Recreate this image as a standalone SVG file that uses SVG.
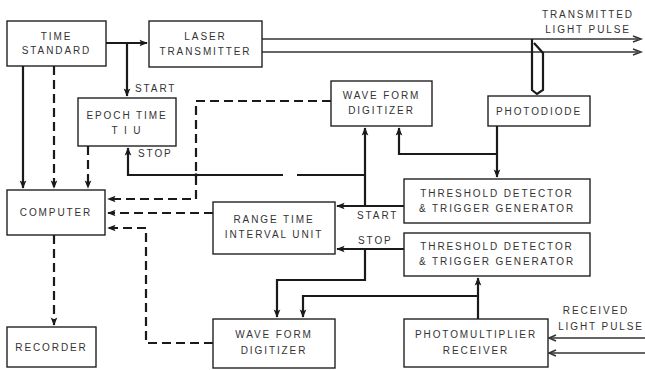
<svg xmlns="http://www.w3.org/2000/svg" width="645" height="370" viewBox="0 0 645 370">
<style>
.box{fill:#fff;stroke:#222;stroke-width:1.4}
text{font-family:"Liberation Sans",Arial,sans-serif;font-size:10px;fill:#333;letter-spacing:1.9px;text-anchor:middle}
.lbl{text-anchor:start}
.s{fill:none;stroke:#1a1a1a;stroke-width:2.2}
.d{fill:none;stroke:#1a1a1a;stroke-width:2.2;stroke-dasharray:9 5}
.b{fill:none;stroke:#333;stroke-width:1.5}
</style>
<defs>
<marker id="a" viewBox="0 0 10 10" refX="9" refY="5" markerWidth="3.8" markerHeight="3.8" orient="auto" markerUnits="strokeWidth">
<path d="M0,1 L10,5 L0,9 L2,5 z" fill="#1a1a1a"/>
</marker>
</defs>
<rect width="645" height="370" fill="#fff"/>
<g id="connectors">
<!-- laser beam -->
<path class="b" d="M262,39 H638"/>
<path class="b" d="M262,52 H638"/>
<path class="b" d="M633,36 L641,39 L633,42"/>
<path class="b" d="M633,49 L641,52 L633,55"/>
<path class="s" d="M532,39 V90 L537,94 L543,90 V53 L534,43" stroke-width="1.6"/>
<!-- received beam -->
<path class="b" d="M645,338 H550"/>
<path class="b" d="M645,353 H550"/>
<path class="b" d="M556,335 L549,338 L556,341"/>
<path class="b" d="M556,350 L549,353 L556,356"/>
<!-- time standard -> laser -->
<path class="s" d="M106,43 H147" marker-end="url(#a)"/>
<path class="s" d="M127,43 V96" marker-end="url(#a)"/>
<path class="s" d="M23,66 V188" marker-end="url(#a)"/>
<path class="d" d="M54,66 V188" marker-end="url(#a)"/>
<path class="d" d="M88,146 V188" marker-end="url(#a)"/>
<!-- START / STOP from threshold 1 -->
<path class="s" d="M404,206 H337" marker-end="url(#a)"/>
<path class="s" d="M365,206 V128" marker-end="url(#a)"/>
<path class="s" d="M365,175 H297 M283,175 H128 V148" marker-end="url(#a)"/>
<!-- photodiode -->
<path class="s" d="M497,126 V177" marker-end="url(#a)"/>
<path class="s" d="M497,154 H399 V128" marker-end="url(#a)"/>
<!-- dashed to computer -->
<path class="d" d="M331,101 H196 V199 H108" marker-end="url(#a)"/>
<path class="d" d="M213,213 H108" marker-end="url(#a)"/>
<path class="d" d="M213,343 H146 V228 H108" marker-end="url(#a)"/>
<path class="d" d="M54,235 V325" marker-end="url(#a)"/>
<!-- STOP from threshold 2 -->
<path class="s" d="M404,249 H337" marker-end="url(#a)"/>
<path class="s" d="M365,249 V280 H277 V317" marker-end="url(#a)"/>
<!-- photomultiplier -->
<path class="s" d="M478,319 V278" marker-end="url(#a)"/>
<path class="s" d="M478,296 H303 V317" marker-end="url(#a)"/>
<circle cx="196" cy="175" r="1.8" fill="#1a1a1a"/>
</g>
<g id="time-standard"><rect class="box" x="7" y="21" width="99" height="45"/><text x="56.5" y="40">TIME</text><text x="56.5" y="54">STANDARD</text></g>
<g id="laser-transmitter"><rect class="box" x="149" y="21" width="113" height="46"/><text x="205.5" y="40">LASER</text><text x="205.5" y="55">TRANSMITTER</text></g>
<g id="epoch-time"><rect class="box" x="78" y="98" width="98" height="48"/><text x="127" y="119">EPOCH TIME</text><text x="127" y="134">T I U</text></g>
<g id="wfd-top"><rect class="box" x="331" y="81" width="101" height="45"/><text x="381.5" y="99">WAVE FORM</text><text x="381.5" y="114">DIGITIZER</text></g>
<g id="photodiode"><rect class="box" x="488" y="96" width="102" height="30"/><text x="539" y="115">PHOTODIODE</text></g>
<g id="threshold-1"><rect class="box" x="404" y="179" width="186" height="44"/><text x="497" y="197">THRESHOLD DETECTOR</text><text x="497" y="212">&amp; TRIGGER GENERATOR</text></g>
<g id="threshold-2"><rect class="box" x="404" y="233" width="186" height="43"/><text x="497" y="250">THRESHOLD DETECTOR</text><text x="497" y="265">&amp; TRIGGER GENERATOR</text></g>
<g id="computer"><rect class="box" x="7" y="190" width="98" height="45"/><text x="56" y="216">COMPUTER</text></g>
<g id="range-time"><rect class="box" x="213" y="202" width="122" height="52"/><text x="274" y="223">RANGE TIME</text><text x="274" y="238">INTERVAL UNIT</text></g>
<g id="recorder"><rect class="box" x="7" y="327" width="89" height="40"/><text x="51.5" y="351">RECORDER</text></g>
<g id="wfd-bottom"><rect class="box" x="213" y="319" width="122" height="49"/><text x="274" y="338">WAVE FORM</text><text x="274" y="354">DIGITIZER</text></g>
<g id="photomultiplier"><rect class="box" x="404" y="319" width="144" height="48"/><text x="476" y="338">PHOTOMULTIPLIER</text><text x="476" y="354">RECEIVER</text></g>
<g id="labels">
<text class="lbl" x="135" y="92">START</text>
<text class="lbl" x="138" y="157">STOP</text>
<text class="lbl" x="357" y="219">START</text>
<text class="lbl" x="358" y="244">STOP</text>
<text x="588" y="18">TRANSMITTED</text>
<text x="588" y="33">LIGHT PULSE</text>
<text x="596" y="314">RECEIVED</text>
<text x="601" y="330">LIGHT PULSE</text>
</g>
</svg>
